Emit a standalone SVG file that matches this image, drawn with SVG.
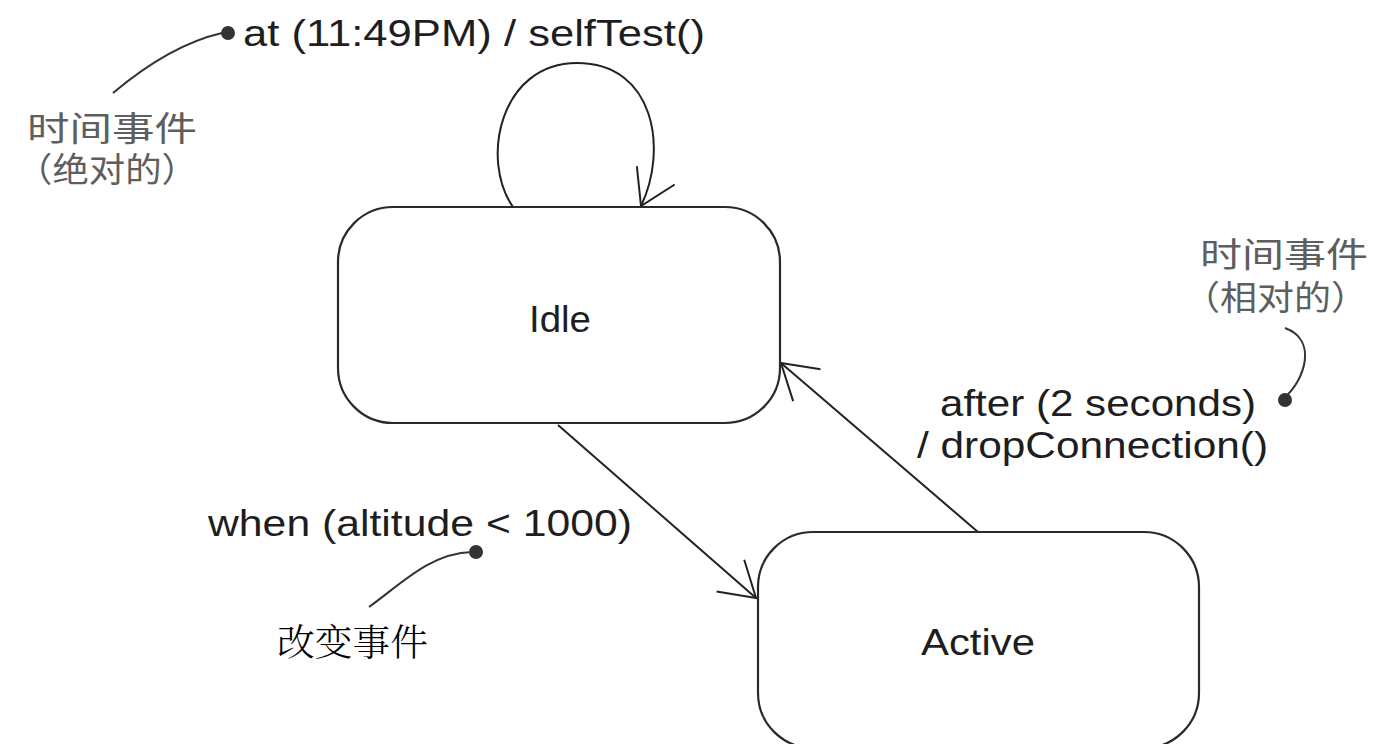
<svg xmlns="http://www.w3.org/2000/svg" width="1382" height="744" viewBox="0 0 1382 744">
  <style>
    .state { fill: #ffffff; stroke: #2a2a2a; stroke-width: 2.2; }
    .edge { fill: none; stroke: #222222; stroke-width: 2; }
    .lead { fill: none; stroke: #333333; stroke-width: 2; }
    .dot { fill: #333333; }
    .lbl { font-family: "Liberation Sans", Arial, sans-serif; font-size: 37px; fill: #1e1e1e; }
    .name { font-family: "Liberation Sans", Arial, sans-serif; font-size: 37px; fill: #1e1e1e; text-anchor: middle; }
    .note { font-family: "Noto Sans CJK SC", sans-serif; font-size: 34px; fill: #5e5e5e; }
    .cn { font-family: "Noto Serif CJK SC", "Liberation Serif", "Noto Sans CJK SC", serif; font-size: 37px; fill: #000000; font-weight: 300; }
  </style>
  <defs>
    <marker id="open-arrow" markerUnits="userSpaceOnUse" viewBox="-40 -26 46 52" markerWidth="46" markerHeight="52" refX="0" refY="0" orient="auto">
      <path d="M-34,-21 L0,0 L-34,21" fill="none" stroke="#222222" stroke-width="2"/>
    </marker>
  </defs>

  <!-- connectors: transitions and note leaders -->
  <g id="connectors">
    <path id="self-loop" class="edge" d="M513,207 C480,160 500,63 577,63 C655,63 668,150 641,206" marker-end="url(#open-arrow)"/>
    <path id="idle-to-active" class="edge" d="M558,425 L756,598" marker-end="url(#open-arrow)"/>
    <path id="active-to-idle" class="edge" d="M978,532 L781,363" marker-end="url(#open-arrow)"/>
    <path class="lead" d="M113,93 Q170,45 222,33"/>
    <path class="lead" d="M1285,328 C1318,340 1305,380 1284,398"/>
    <path class="lead" d="M369,607 C400,585 430,553 472,552"/>
  </g>

  <!-- states -->
  <g id="idle">
    <rect class="state" x="338" y="207" width="442" height="216" rx="55" ry="55"/>
    <text class="name" x="560" y="332" textLength="62" lengthAdjust="spacingAndGlyphs">Idle</text>
  </g>
  <g id="active">
    <rect class="state" x="758" y="532" width="441" height="216" rx="55" ry="55"/>
    <text class="name" x="978" y="655" textLength="114" lengthAdjust="spacingAndGlyphs">Active</text>
  </g>

  <!-- transition labels -->
  <g id="label-selftest">
    <circle class="dot" cx="228" cy="33" r="7"/>
    <text class="lbl" x="243" y="46" textLength="462" lengthAdjust="spacingAndGlyphs">at (11:49PM) / selfTest()</text>
  </g>
  <g id="label-after">
    <text class="lbl"><tspan x="940" y="416" textLength="316" lengthAdjust="spacingAndGlyphs">after (2 seconds)</tspan><tspan x="917" y="458" textLength="351" lengthAdjust="spacingAndGlyphs">/ dropConnection()</tspan></text>
    <circle class="dot" cx="1285" cy="400" r="7"/>
  </g>
  <g id="label-when">
    <text class="lbl" x="208" y="536" textLength="424" lengthAdjust="spacingAndGlyphs">when (altitude &lt; 1000)</text>
    <circle class="dot" cx="476" cy="552" r="7"/>
  </g>

  <!-- notes -->
  <g id="note-absolute">
    <text class="note"><tspan x="27" y="141" textLength="170" lengthAdjust="spacingAndGlyphs">时间事件</tspan><tspan x="16" y="182" textLength="182" lengthAdjust="spacingAndGlyphs">（绝对的）</tspan></text>
  </g>
  <g id="note-relative">
    <text class="note"><tspan x="1200" y="267" textLength="168" lengthAdjust="spacingAndGlyphs">时间事件</tspan><tspan x="1183" y="310" textLength="185" lengthAdjust="spacingAndGlyphs">（相对的）</tspan></text>
  </g>
  <g id="note-change">
    <text class="cn" x="277" y="656" textLength="151" lengthAdjust="spacingAndGlyphs">改变事件</text>
  </g>
</svg>
